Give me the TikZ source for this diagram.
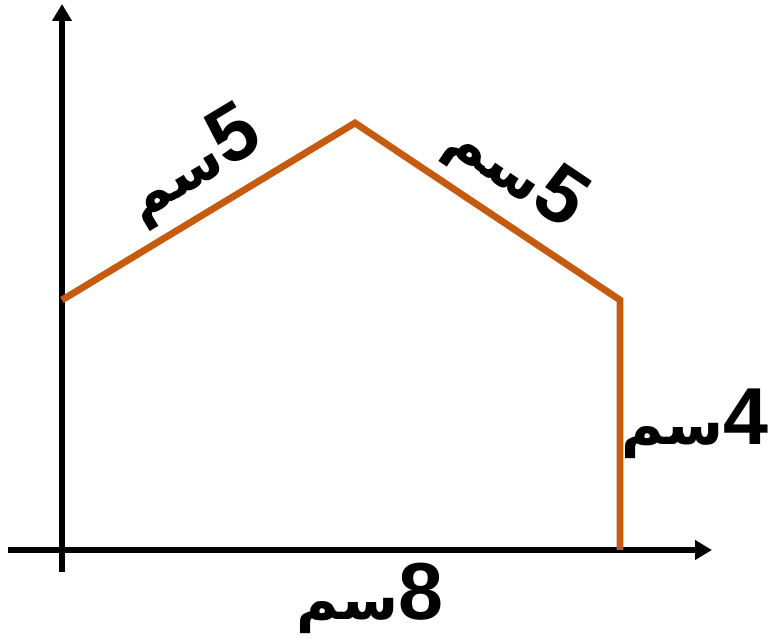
\documentclass[tikz,border=0pt]{standalone}
\usepackage{fontspec}
\newfontfamily\arabicfont[Script=Arabic]{DejaVu Sans}
\newfontfamily\numfont{Liberation Sans}
\TeXXeTstate=1
\usetikzlibrary{arrows.meta}
\definecolor{edgeorange}{RGB}{197,90,17}
\newcommand{\cmlabel}[1]{\beginR{\numfont\bfseries\fontsize{46}{50}\selectfont #1}{\arabicfont\bfseries\fontsize{33}{36}\selectfont سم}\endR}

\begin{document}
\begin{tikzpicture}[x=0.02cm, y=0.02cm,
    axis/.style={line width=3.3pt, -{Triangle[length=0.34cm, width=0.38cm]}},
    edge/.style={edgeorange, line width=3.9pt},
    lenlabel/.style={inner sep=0pt}]
    \useasboundingbox (0,0) rectangle (769,640);
    % Axes
    \coordinate (xstart) at (8,90);
    \coordinate (xend) at (712,90);
    \coordinate (ystart) at (62,68);
    \coordinate (yend) at (62,636);
    \draw[axis] (xstart) -- (xend);
    \draw[axis] (ystart) -- (yend);
    % Outline
    \coordinate (left) at (62,340);
    \coordinate (top) at (355,517);
    \coordinate (right) at (620,340);
    \coordinate (foot) at (620,90);
    \draw[edge, line join=miter] (left) -- (top) -- (right) -- (foot);
    % Lengths
    \node[lenlabel, rotate=31] (lblleft) at (192,474) {\cmlabel{5}};
    \node[lenlabel, rotate=-34] (lblright) at (516,468) {\cmlabel{5}};
    \node[lenlabel] (lblside) at (695,216) {\cmlabel{4}};
    \node[lenlabel] (lblbase) at (370,42) {\cmlabel{8}};
\end{tikzpicture}
\end{document}
